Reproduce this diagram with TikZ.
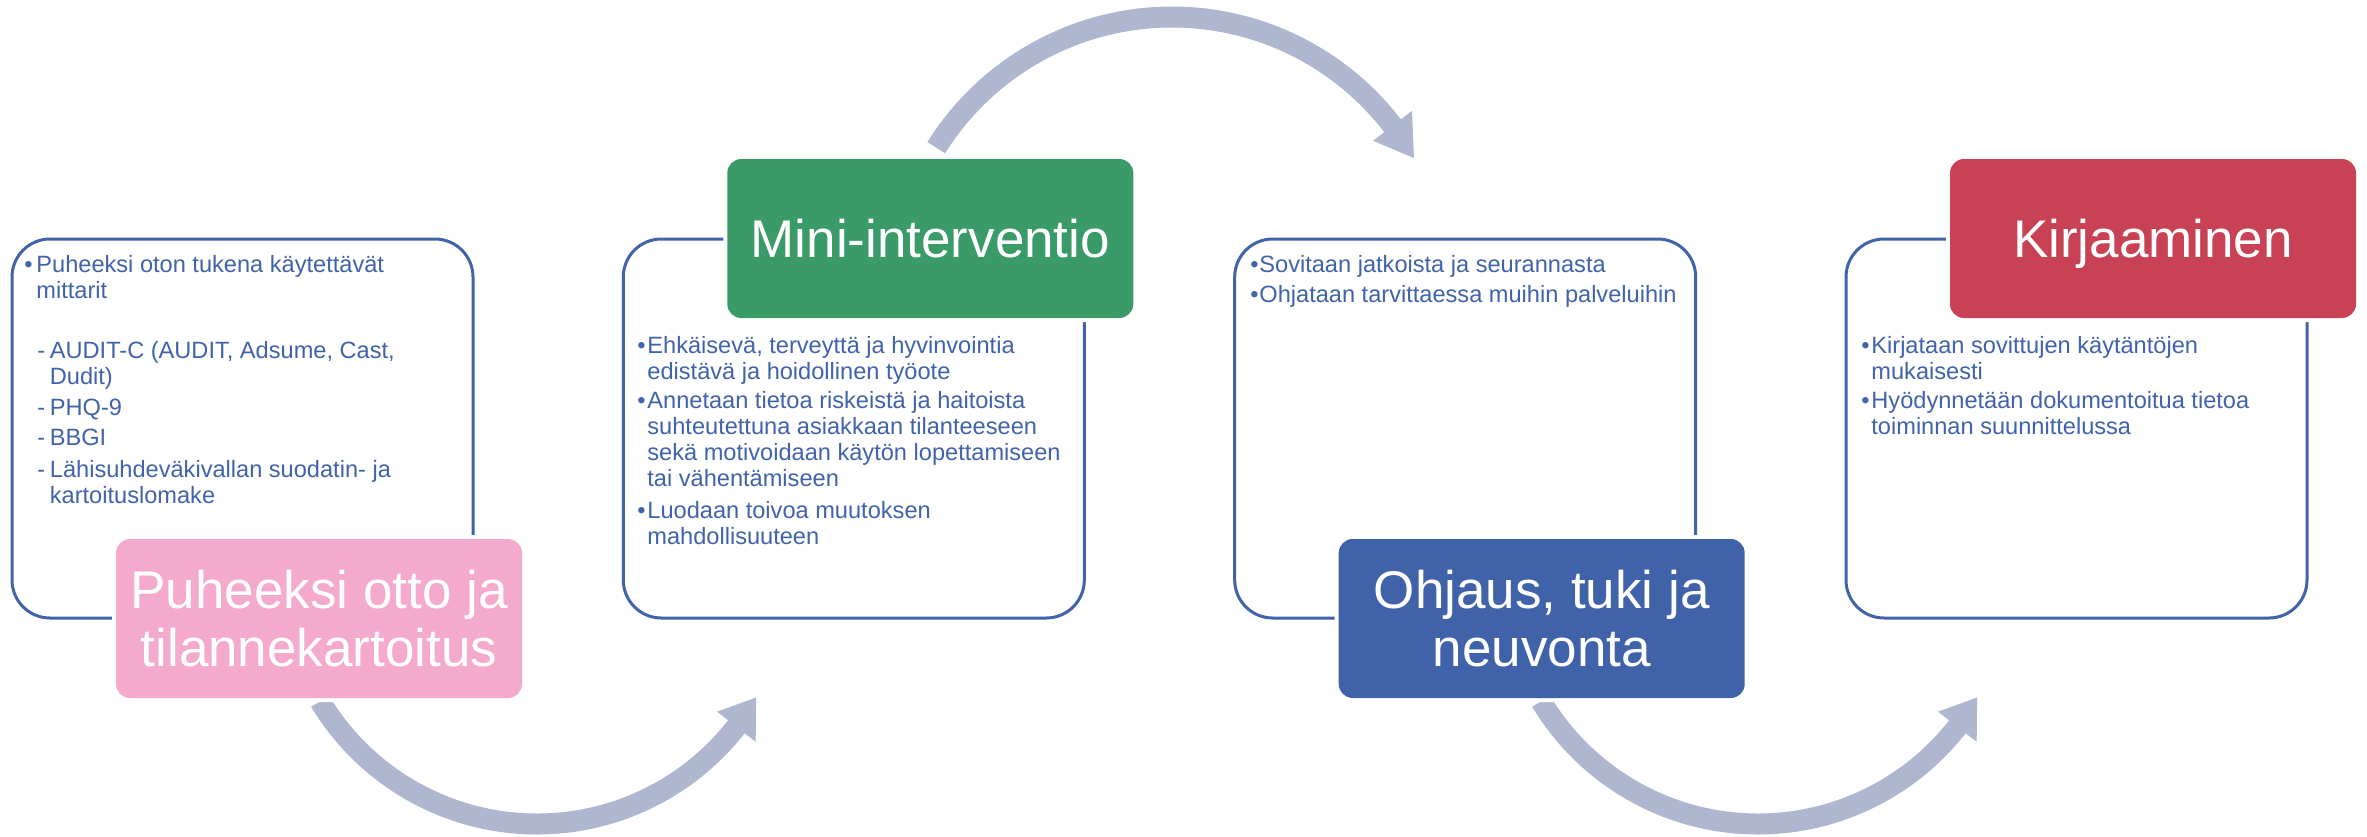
\documentclass[tikz,border=0pt]{standalone}
\usepackage{fontspec}
\setmainfont{Liberation Sans}
\definecolor{tblue}{HTML}{4163AA}
\definecolor{cgreen}{HTML}{3A9A68}
\definecolor{cred}{HTML}{C94155}
\definecolor{cpink}{HTML}{F3AACC}
\definecolor{cblue}{HTML}{4062A8}
\definecolor{arrowc}{HTML}{AEB6D0}
\begin{document}
\begin{tikzpicture}[x=0.5pt,y=-0.5pt,
  wbox/.style={draw=tblue, line width=1.5pt, fill=white, rounded corners=19pt, minimum width=230.5pt, minimum height=189.5pt, inner sep=0pt},
  pad/.style={fill=white, rounded corners=9pt, minimum width=207pt, minimum height=83.5pt, inner sep=0pt},
  cbox/.style={rounded corners=7pt, minimum width=203pt, minimum height=79.5pt, inner sep=0pt, text=white, align=center, font=\fontsize{26.5pt}{29pt}\selectfont},
  body/.style={text=tblue, anchor=base west, inner sep=0pt, align=left, font=\fontsize{11.8pt}{13pt}\selectfont},
  arrowline/.style={draw=arrowc, line width=10.5pt},
  arrowhead/.style={fill=arrowc}
]
\useasboundingbox (0,0) rectangle (2367,836);
% white content boxes
\node[wbox] (w1) at (242.5,428.5) {};
\node[wbox] (w2) at (853.8,428.5) {};
\node[wbox] (w3) at (1465.2,428.5) {};
\node[wbox] (w4) at (2076.5,428.5) {};
% circular arrows
\coordinate (T) at (1172,295);
\coordinate (B1) at (537,571);
\coordinate (B2) at (1758,571);
\draw[arrowline] ([shift={(148:139pt)}]T) arc[start angle=148, end angle=37, radius=139pt];
\fill[arrowhead] ([shift={(29.5:139pt)}]T) -- ([shift={(37.5:126.75pt)}]T) -- ([shift={(37.5:151.25pt)}]T) -- cycle;
\draw[arrowline] ([shift={(211:126.5pt)}]B1) arc[start angle=211, end angle=323, radius=126.5pt];
\fill[arrowhead] ([shift={(330:126.5pt)}]B1) -- ([shift={(322:114.25pt)}]B1) -- ([shift={(322:138.75pt)}]B1) -- cycle;
\draw[arrowline] ([shift={(211:126.5pt)}]B2) arc[start angle=211, end angle=323, radius=126.5pt];
\fill[arrowhead] ([shift={(330:126.5pt)}]B2) -- ([shift={(322:114.25pt)}]B2) -- ([shift={(322:138.75pt)}]B2) -- cycle;
% white gaps
\node[pad] (p1) at (319,618.5) {};
\node[pad] (p2) at (930.3,238.5) {};
\node[pad] (p3) at (1541.7,618.5) {};
\node[pad] (p4) at (2153,238.5) {};
% coloured title boxes
\node[cbox, fill=cpink] (c1) at (319,618.5) {Puheeksi otto ja\\tilannekartoitus};
\node[cbox, fill=cgreen] (c2) at (930.3,238.5) {Mini-interventio};
\node[cbox, fill=cblue] (c3) at (1541.7,618.5) {Ohjaus, tuki ja\\neuvonta};
\node[cbox, fill=cred, text depth=0pt] (c4) at (2153,238.5) {Kirjaaminen};
% box 1 text (multi-line nodes are placed at the baseline of their last line)
\node[body] (b1a) at (24,272) {•};
\node[body] (t1a) at (36,298) {Puheeksi oton tukena käytettävät\\mittarit};
\node[body] (d1a) at (37,358) {-};
\node[body] (t1b) at (49.5,384) {AUDIT-C (AUDIT, Adsume, Cast,\\Dudit)};
\node[body] (d1b) at (37,415) {-};
\node[body] (t1c) at (49.5,415) {PHQ-9};
\node[body] (d1c) at (37,445) {-};
\node[body] (t1d) at (49.5,445) {BBGI};
\node[body] (d1d) at (37,477) {-};
\node[body] (t1e) at (49.5,503) {Lähisuhdeväkivallan suodatin- ja\\kartoituslomake};
% box 2 text
\node[body] (b2a) at (637,353) {•};
\node[body] (t2a) at (647,379) {Ehkäisevä, terveyttä ja hyvinvointia\\edistävä ja hoidollinen työote};
\node[body] (b2b) at (637,408) {•};
\node[body] (t2b) at (647,486) {Annetaan tietoa riskeistä ja haitoista\\suhteutettuna asiakkaan tilanteeseen\\sekä motivoidaan käytön lopettamiseen\\tai vähentämiseen};
\node[body] (b2c) at (637,518) {•};
\node[body] (t2c) at (647,544) {Luodaan toivoa muutoksen\\mahdollisuuteen};
% box 3 text
\node[body] (b3a) at (1250,272) {•};
\node[body] (t3a) at (1259,272) {Sovitaan jatkoista ja seurannasta};
\node[body] (b3b) at (1250,302.5) {•};
\node[body] (t3b) at (1259,302.5) {Ohjataan tarvittaessa muihin palveluihin};
% box 4 text
\node[body] (b4a) at (1861,353) {•};
\node[body] (t4a) at (1871,379) {Kirjataan sovittujen käytäntöjen\\mukaisesti};
\node[body] (b4b) at (1861,408) {•};
\node[body] (t4b) at (1871,434) {Hyödynnetään dokumentoitua tietoa\\toiminnan suunnittelussa};
\end{tikzpicture}
\end{document}
